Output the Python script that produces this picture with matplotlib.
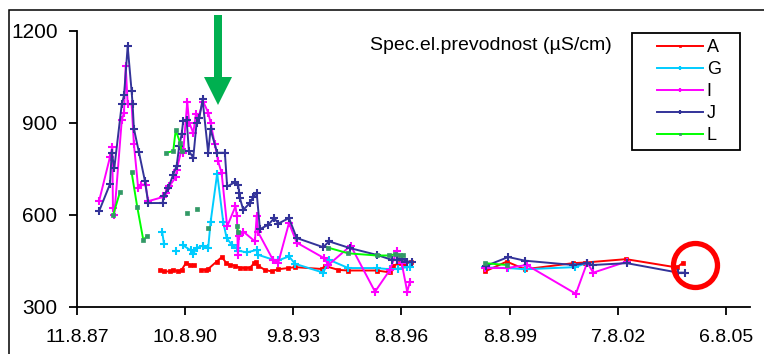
import numpy as np
import pandas as pd
import matplotlib
matplotlib.use("Agg")
import matplotlib.pyplot as plt
from matplotlib.patches import Rectangle, Ellipse, FancyArrow
from matplotlib.transforms import IdentityTransform

plt.rcParams["font.family"] = ["Liberation Sans", "DejaVu Sans"]

# ---- measurements: conductivity (uS/cm) per sampling site, None = no sample ----
a_dates = ["1989-11-28", "1990-01-08", "1990-03-10", "1990-04-11", "1990-06-01", "1990-07-05",
           "1990-08-21", "1990-09-27", "1990-11-07", "1990-12-10", "1991-01-17", "1991-03-08",
           "1991-03-31", "1991-06-24", "1991-08-17", "1991-10-01", "1991-11-06", "1991-12-27",
           "1992-02-15", "1992-04-06", "1992-05-27", "1992-07-09", "1992-07-23", "1992-08-19",
           "1992-10-26", "1993-01-02", "1993-03-04", "1993-06-19", "1993-08-26", "1994-05-23",
           "1994-06-25", "1994-11-07", "1995-02-17", "1995-12-01", "1996-04-13", "1996-05-17",
           "1996-07-24", "1996-09-13", "1996-11-13", "1997-12-01", "1998-12-01", "1999-07-09",
           "2000-01-10", "2001-05-12", "2001-09-08", "2002-10-29", "2004-03-25", "2004-05-31"]
a_vals = [421, 416, 416, 421, 416, 421,
          445, 437, 437, None, 421, 421,
          424, 448, 463, 443, 437, 435,
          428, 427, 428, 443, 448, 434,
          421, 416, 423, 427, 430, 424,
          434, 421, 419, 419, 413, 435,
          443, 440, 448, None, 416, 448,
          423, 443, 445, 456, 429, 445]

g_dates = ["1989-12-20", "1990-01-08", "1990-03-01", "1990-05-06", "1990-06-10", "1990-07-21",
           "1990-10-04", "1990-10-31", "1990-12-04", "1991-02-02", "1991-03-31", "1991-04-24",
           "1991-06-30", "1991-08-31", "1991-10-04", "1991-11-24", "1992-01-13", "1992-01-29",
           "1992-04-23", "1992-08-03", "1992-08-20", "1993-01-18", "1993-03-10", "1993-06-26",
           "1993-08-26", "1994-06-08", "1994-08-05", "1995-02-17", "1995-12-01", "1996-04-13",
           "1996-07-03", "1996-10-05", "1996-11-02", "1997-12-01", "1998-12-01", "1999-07-25",
           "2000-01-10", "2001-05-29", "2001-09-25"]
g_vals = [546, 505, None, 481, None, 501,
          485, 473, 492, 500, 492, 576,
          735, 576, 525, 503, 492, 484,
          478, 486, 470, 454, 452, 465,
          441, 412, 454, 427, 427, 423,
          425, 430, 432, None, 429, 427,
          423, 430, 443]

i_dates = ["1988-03-21", "1988-07-10", "1988-08-02", "1988-08-09", "1988-08-23", "1988-11-06",
           "1988-11-29", "1988-12-16", "1989-01-05", "1989-02-14", "1989-03-09", "1989-04-21",
           "1989-05-19", "1989-07-05", "1989-08-01", "1990-01-01", "1990-01-28", "1990-03-02",
           "1990-05-09", "1990-05-16", "1990-07-05", "1990-07-21", "1990-08-31", "1990-09-20",
           "1990-10-31", "1990-11-27", "1990-12-20", "1991-02-08", "1991-03-31", "1991-04-24",
           "1991-06-07", "1991-07-10", "1991-08-14", "1991-10-09", "1992-01-01", "1992-01-16",
           "1992-01-26", "1992-02-05", "1992-03-20", "1992-07-16", "1992-08-03", "1992-08-19",
           "1993-01-18", "1993-03-10", "1993-06-26", "1993-09-12", "1994-06-18", "1994-07-29",
           "1995-03-13", "1995-11-14", "1996-04-13", "1996-06-20", "1996-08-10", "1996-10-05",
           "1996-11-02", "1997-12-01", "1998-12-01", "1999-07-09", "2000-01-27", "2001-06-08",
           "2001-10-01", "2001-12-01", "2002-11-05"]
i_vals = [645, 789, 821, 623, 601, 909,
          934, 1087, 961, 961, 832, 688,
          699, 699, 645, 659, 672, 694,
          724, 748, 814, 803, 969, 901,
          868, 928, 917, 970, 934, 901,
          830, 775, 737, 563, 628, 596,
          470, 530, 546, 514, 596, 543,
          452, 445, 574, 510, 459, 437,
          500, 350, 421, 481, 443, 350,
          383, None, 427, 427, 437, 343,
          445, 412, 448]

j_dates = ["1988-03-21", "1988-07-10", "1988-07-27", "1988-08-23", "1988-11-06", "1988-11-29",
           "1989-01-05", "1989-02-14", "1989-02-24", "1989-03-09", "1989-04-28", "1989-06-28",
           "1989-08-01", "1989-12-24", "1990-01-08", "1990-02-20", "1990-04-11", "1990-05-16",
           "1990-06-11", "1990-07-05", "1990-07-21", "1990-08-25", "1990-09-17", "1990-10-31",
           "1990-12-04", "1991-01-01", "1991-02-02", "1991-03-31", "1991-04-24", "1991-06-30",
           "1991-09-16", "1991-10-09", "1991-12-27", "1992-01-29", "1992-02-08", "1992-02-15",
           "1992-03-20", "1992-05-27", "1992-06-29", "1992-08-03", "1992-09-05", "1992-11-28",
           "1993-01-28", "1993-03-10", "1993-06-26", "1993-09-12", "1994-06-08", "1994-08-05",
           "1995-03-06", "1995-12-01", "1996-04-30", "1996-06-20", "1996-08-10", "1996-09-29",
           "1996-11-19", "1997-12-01", "1998-12-11", "1999-07-25", "2000-01-10", "2001-05-12",
           "2001-09-25", "2001-12-01", "2002-11-05", "2004-04-10", "2004-06-17"]
j_vals = [612, 701, 803, 754, 961, 990,
          1150, 1003, 961, 882, 806, 712,
          639, 639, 663, 688, 732, 761,
          825, 863, 906, 909, 808, 787,
          901, 917, 977, 803, 879, 803,
          803, 693, 707, 697, 672, 655,
          617, 639, 659, 672, 554, 568,
          590, 572, 590, 525, 495, 514,
          492, 470, 454, 454, 458, 448,
          448, None, 434, 463, 451, 437,
          443, 437, 443, 412, 412]

l_dates = ["1988-08-12", "1988-10-19", "1988-12-01", "1989-02-14", "1989-04-12", "1989-06-12",
           "1989-07-16", "1989-10-01", "1990-01-28", "1990-04-11", "1990-05-06", "1990-06-19",
           "1990-07-05", "1990-08-01", "1990-08-31", "1990-10-15", "1990-12-04", "1991-02-01",
           "1991-03-31", "1991-08-01", "1992-01-18", "1992-01-29", "1993-01-01", "1994-07-22",
           "1995-02-17", "1995-12-01", "1996-04-06", "1996-06-03", "1996-07-24", "1996-08-26",
           "1997-12-01", "1998-12-01", "1999-07-09"]
l_vals = [601, 675, None, 739, 626, 519,
          530, None, 803, 808, 877, 836,
          808, None, 607, None, 621, None,
          558, None, 563, 543, None, 494,
          475, 468, 468, 472, 470, 468,
          None, 443, 437]

series_names = ["A", "G", "I", "J", "L"]
x_tick_labels = ["11.8.87", "10.8.90", "9.8.93", "8.8.96", "8.8.99", "7.8.02", "6.8.05"]
y_ticks = [300, 600, 900, 1200]
chart_label = "Spec.el.prevodnost (\u00b5S/cm)"

W, H, DPI = 764, 354, 100
fig = plt.figure(figsize=(W / DPI, H / DPI), dpi=DPI)
fig.patch.set_facecolor("white")

# outer chart frame
fig.add_artist(Rectangle((9, -20), 800, H - 10 + 20, transform=IdentityTransform(),
                         fill=False, edgecolor="black", linewidth=1.1))

ax = fig.add_axes([77 / W, 1 - 307 / H, (750 - 77) / W, (307 - 31) / H])

styles = {
    "A": dict(color="#FF0000", marker="s", ms=3.2, mfc="#FF0000", mec="#FF0000", mew=0.5),
    "G": dict(color="#00CCFF", marker="+", ms=6, mfc="#00CCFF", mec="#00CCFF", mew=1.5),
    "I": dict(color="#FF00FF", marker="+", ms=6, mfc="#FF00FF", mec="#FF00FF", mew=1.5),
    "J": dict(color="#333399", marker="+", ms=6, mfc="#333399", mec="#333399", mew=1.5),
    "L": dict(color="#00FF00", marker="s", ms=3.2, mfc="#339966", mec="#339966", mew=0.5),
}
data = {
    "A": (a_dates, a_vals),
    "G": (g_dates, g_vals),
    "I": (i_dates, i_vals),
    "J": (j_dates, j_vals),
    "L": (l_dates, l_vals),
}

handles = []
for name in series_names:
    d, v = data[name]
    x = pd.to_datetime(d)
    y = np.array([np.nan if val is None else val for val in v], dtype=float)
    ln, = ax.plot(x, y, lw=1.4, label=name, **styles[name])
    handles.append(ln)

ax.set_ylim(300, 1200)
ax.set_yticks(y_ticks)
ax.set_yticklabels([str(t) for t in y_ticks])
tick_pos = pd.to_datetime(x_tick_labels, format="%d.%m.%y")
ax.set_xlim(pd.Timestamp("1987-08-11"), pd.Timestamp("2006-04-06"))
ax.set_xticks(tick_pos)
ax.set_xticklabels(x_tick_labels)

for s in ["top", "right"]:
    ax.spines[s].set_visible(False)
for s in ["left", "bottom"]:
    ax.spines[s].set_linewidth(1.3)
    ax.spines[s].set_color("black")
ax.tick_params(axis="y", direction="out", length=6, width=1.3, pad=8, labelsize=15)
ax.tick_params(axis="x", direction="out", length=6, width=1.3, pad=10, labelsize=14)

fig.text(370 / W, 1 - 45 / H, chart_label, fontsize=14, va="center")

# legend box
fig.add_artist(Rectangle((632, H - 150), 108, 117, transform=IdentityTransform(),
                         fill=False, edgecolor="black", linewidth=1.3))
leg = ax.legend(handles=handles, loc="upper left", frameon=False,
                bbox_to_anchor=(657 / W, 1 - 39 / H), bbox_transform=fig.transFigure,
                borderaxespad=0, borderpad=0, fontsize=13, handlelength=2.55,
                handletextpad=0.2, labelspacing=0.28, markerscale=0.6)

# highlight annotations
fig.add_artist(FancyArrow(218, H - 15, 0, -90, width=8, head_width=28, head_length=28,
                          length_includes_head=True, transform=IdentityTransform(),
                          color="#00B050", lw=0))
fig.add_artist(Ellipse((695.5 / W, 1 - 265.5 / H), 44 / W, 44 / H, transform=fig.transFigure,
                       fill=False, edgecolor="#FF0000", linewidth=3.8))

fig.savefig("out.png", dpi=DPI)
